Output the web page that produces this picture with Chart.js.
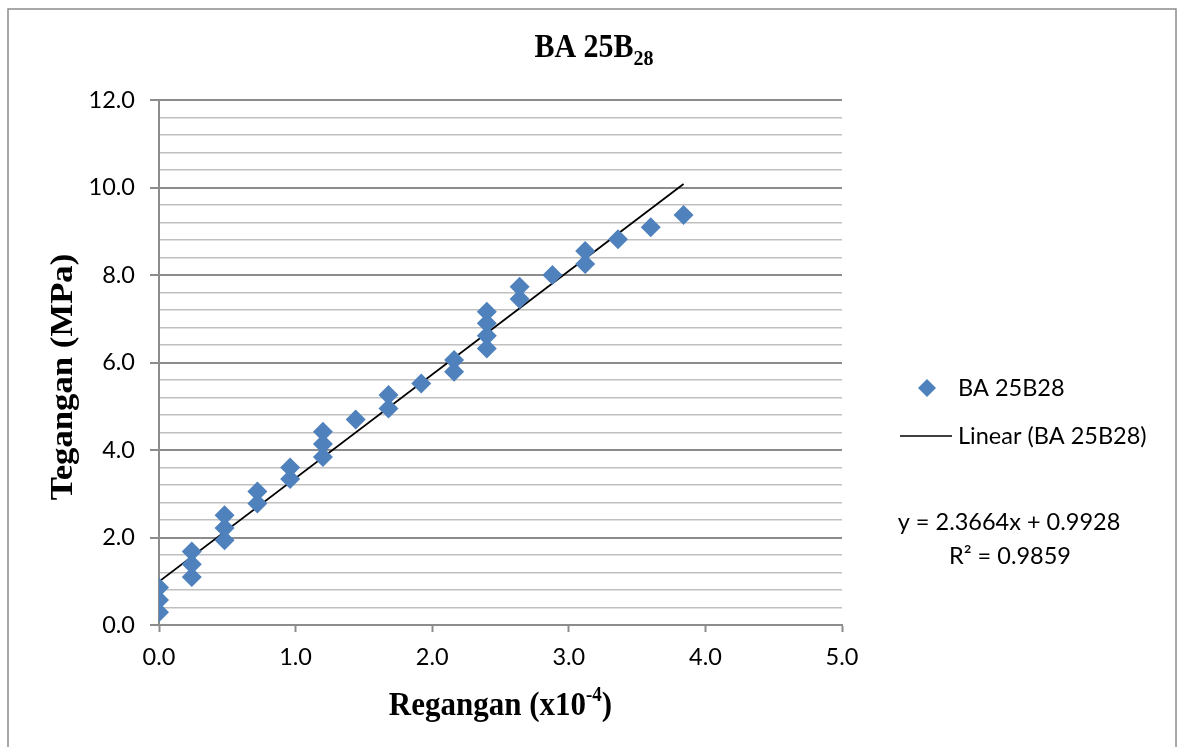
<!DOCTYPE html>
<html>
<head>
<meta charset="utf-8">
<style>
  html, body { margin: 0; padding: 0; background: #fff; }
  #chart { display: block; }
</style>
<script src="https://cdn.jsdelivr.net/npm/chart.js@4.4.1/dist/chart.umd.min.js"></script>
</head>
<body>
<canvas id="chart" width="1184" height="747"></canvas>
<script>
// strain (x10^-4) and stress (MPa) readings
const regangan = [
    0, 0, 0,
    0.24, 0.24, 0.24,
    0.48, 0.48, 0.48,
    0.72, 0.72,
    0.96, 0.96,
    1.20, 1.20, 1.20,
    1.44,
    1.68, 1.68,
    1.92,
    2.16, 2.16,
    2.40, 2.40, 2.40, 2.40,
    2.64, 2.64,
    2.88,
    3.12, 3.12,
    3.36,
    3.60,
    3.84
];
const tegangan = [
    0.29, 0.57, 0.86,
    1.10, 1.39, 1.68,
    1.94, 2.22, 2.51,
    2.78, 3.05,
    3.34, 3.60,
    3.84, 4.14, 4.42,
    4.70,
    4.95, 5.26,
    5.52,
    5.79, 6.06,
    6.32, 6.61, 6.90, 7.16,
    7.45, 7.73,
    8.00,
    8.25, 8.55,
    8.82,
    9.09,
    9.37
];

// excel linear trendline
const slope = 2.3664;
const intercept = 0.9928;
const trendX = [0, 3.84];

const xTicks = [0, 1, 2, 3, 4, 5];

const seriesName = 'BA 25B28';
const blue = '#4f81bd';
const majorGrid = '#8c8c8c';
const minorGrid = '#c0c0c0';
const labelFont = '23.5px Lato';

const isMajor = v => Math.abs(v / 2 - Math.round(v / 2)) < 1e-6;

const points = regangan.map((x, i) => ({x: x, y: tegangan[i]}));
const trend = trendX.map(x => ({x: x, y: slope * x + intercept}));

function stretched(ctx, x, y, sy, fn) {
    ctx.save();
    ctx.translate(x, y);
    ctx.scale(1, sy);
    fn();
    ctx.restore();
}

const decor = {
    id: 'decor',
    beforeDraw(chart) {
        const ctx = chart.ctx;
        ctx.save();
        ctx.fillStyle = '#fff';
        ctx.fillRect(0, 0, chart.width, chart.height);
        ctx.strokeStyle = '#8c8c8c';
        ctx.lineWidth = 1.5;
        ctx.strokeRect(8, 9, 1168, 760);
        ctx.restore();
    },
    afterDraw(chart) {
        const ctx = chart.ctx;
        const area = chart.chartArea;
        ctx.save();
        ctx.fillStyle = '#000';
        ctx.textBaseline = 'alphabetic';

        // title BA 25B28 with subscript
        const tFont = 'bold 30px "Liberation Serif"';
        const sFont = 'bold 20px "Liberation Serif"';
        ctx.font = tFont;
        const wMain = ctx.measureText('BA 25B').width;
        ctx.font = sFont;
        const wSub = ctx.measureText('28').width;
        const tx = 594 - (wMain + wSub) / 2;
        stretched(ctx, tx, 57, 1.1, () => {
            ctx.textAlign = 'left';
            ctx.font = tFont;
            ctx.fillText('BA 25B', 0, 0);
            ctx.font = sFont;
            ctx.fillText('28', wMain, 7);
        });

        // x axis title with superscript
        const xFont = 'bold 31px "Liberation Serif"';
        const xsFont = 'bold 19px "Liberation Serif"';
        ctx.font = xFont;
        const w1 = ctx.measureText('Regangan (x10').width;
        const w3 = ctx.measureText(')').width;
        ctx.font = xsFont;
        const w2 = ctx.measureText('-4').width;
        const cx = (area.left + area.right) / 2;
        const xx = cx - (w1 + w2 + w3) / 2;
        stretched(ctx, xx, 715, 1.1, () => {
            ctx.textAlign = 'left';
            ctx.font = xFont;
            ctx.fillText('Regangan (x10', 0, 0);
            ctx.font = xsFont;
            ctx.fillText('-4', w1, -13);
            ctx.font = xFont;
            ctx.fillText(')', w1 + w2, 0);
        });

        // y axis title
        stretched(ctx, 72, 377, 1.12, () => {
            ctx.rotate(-Math.PI / 2);
            ctx.textAlign = 'center';
            ctx.font = 'bold 31px "Liberation Serif"';
            ctx.fillText('Tegangan (MPa)', 0, 0);
        });

        // legend
        ctx.font = labelFont;
        ctx.textAlign = 'left';
        ctx.textBaseline = 'middle';
        ctx.fillStyle = blue;
        ctx.beginPath();
        ctx.moveTo(927, 379);
        ctx.lineTo(936, 388);
        ctx.lineTo(927, 397);
        ctx.lineTo(918, 388);
        ctx.closePath();
        ctx.fill();
        ctx.fillStyle = '#000';
        ctx.fillText(seriesName, 958, 388);
        ctx.strokeStyle = '#000';
        ctx.lineWidth = 1.5;
        ctx.beginPath();
        ctx.moveTo(900, 436);
        ctx.lineTo(952, 436);
        ctx.stroke();
        ctx.fillText('Linear (' + seriesName + ')', 958, 436);

        // trendline equation
        ctx.textAlign = 'center';
        ctx.textBaseline = 'alphabetic';
        ctx.fillText('y = ' + slope.toFixed(4) + 'x + ' + intercept.toFixed(4), 1009, 530);
        ctx.fillText('R² = 0.9859', 1010, 564);
        ctx.restore();
    }
};

const chart = new Chart(document.getElementById('chart'), {
    type: 'scatter',
    data: {
        datasets: [{
            label: seriesName,
            data: points,
            backgroundColor: blue,
            borderColor: blue,
            pointStyle: 'rectRot',
            pointRadius: 10,
            pointHoverRadius: 10,
            borderWidth: 0
        }, {
            label: 'Linear (' + seriesName + ')',
            type: 'line',
            data: trend,
            borderColor: '#000',
            borderWidth: 1.8,
            pointRadius: 0,
            fill: false
        }]
    },
    options: {
        responsive: false,
        animation: false,
        devicePixelRatio: 1,
        layout: {
            padding: {left: 0, right: 342, top: 100, bottom: 0}
        },
        scales: {
            x: {
                type: 'linear',
                min: 0,
                max: 5,
                afterFit: s => { s.height = 122; },
                afterBuildTicks: s => { s.ticks = xTicks.map(v => ({value: v})); },
                ticks: {
                    color: '#000',
                    font: {family: 'Lato', size: 23.5},
                    padding: 11,
                    callback: v => v.toFixed(1)
                },
                grid: {
                    drawOnChartArea: false,
                    drawTicks: true,
                    tickLength: 7,
                    tickColor: majorGrid,
                    tickWidth: 2
                },
                border: {display: true, color: majorGrid, width: 2}
            },
            y: {
                type: 'linear',
                min: 0,
                max: 12,
                afterFit: s => { s.width = 159; },
                ticks: {
                    stepSize: 0.4,
                    autoSkip: false,
                    color: '#000',
                    font: {family: 'Lato', size: 23.5},
                    padding: 15,
                    callback: v => isMajor(v) ? v.toFixed(1) : ''
                },
                grid: {
                    color: c => (c.tick && isMajor(c.tick.value)) ? majorGrid : minorGrid,
                    lineWidth: c => (c.tick && isMajor(c.tick.value)) ? 2 : 1.5,
                    tickColor: c => (c.tick && isMajor(c.tick.value)) ? majorGrid : 'rgba(0,0,0,0)',
                    tickLength: 9,
                    tickWidth: 2
                },
                border: {display: true, color: majorGrid, width: 2}
            }
        },
        plugins: {
            legend: {display: false},
            title: {display: false},
            tooltip: {enabled: false}
        }
    },
    plugins: [decor]
});
</script>
</body>
</html>
